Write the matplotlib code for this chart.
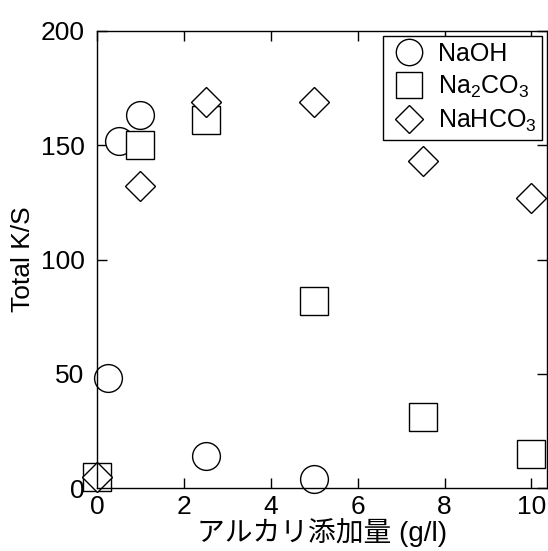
import numpy as np
import matplotlib
matplotlib.use("Agg")
import matplotlib.pyplot as plt

plt.rcParams['font.family'] = ['Liberation Sans', 'Noto Sans CJK JP']
plt.rcParams['mathtext.default'] = 'regular'

# alkali addition (g/l) and Total K/S values
naoh_x = [0, 0.25, 0.5, 1, 2.5, 5]
naoh_y = [5, 48, 152, 163, 14, 4]
na2co3_x = [0, 1, 2.5, 5, 7.5, 10]
na2co3_y = [5, 150, 161, 82, 31, 15]
nahco3_x = [0, 1, 2.5, 5, 7.5, 10]
nahco3_y = [5, 132, 169, 169, 143, 127]

fig = plt.figure(figsize=(5.48, 5.51), dpi=100)
ax = fig.add_axes([0.177, 0.114, 0.822, 0.830])

style = dict(linestyle='none', markerfacecolor='white', markeredgecolor='black',
             markeredgewidth=1.0, clip_on=False)
ax.plot(naoh_x, naoh_y, marker='o', markersize=20, label='NaOH', **style)
ax.plot(na2co3_x, na2co3_y, marker='s', markersize=20, label='Na$_2$CO$_3$', **style)
ax.plot(nahco3_x, nahco3_y, marker='D', markersize=15.5, label='NaHCO$_3$', **style)

ax.set_xlim(0, 10.37)
ax.set_ylim(0, 200)
ax.set_xticks(np.arange(0, 11, 2))
ax.set_yticks(np.arange(0, 201, 50))
ax.tick_params(direction='in', length=7, width=1, labelsize=19, top=True, right=True)
ax.tick_params(axis='y', pad=9)
ax.tick_params(axis='x', pad=5)
for s in ax.spines.values():
    s.set_linewidth(1.0)

ax.set_xlabel('アルカリ添加量 (g/l)', fontsize=20, labelpad=-1)
ax.set_ylabel('Total K/S', fontsize=19, labelpad=4)

leg = ax.legend(loc='upper right', fontsize=18, frameon=True, fancybox=False,
                edgecolor='black', framealpha=1, borderaxespad=0.2,
                handletextpad=0.35, labelspacing=0.3, borderpad=0.25,
                handlelength=1.6, markerscale=0.95)
leg.get_frame().set_linewidth(1.0)

fig.savefig('out.png', dpi=100)
